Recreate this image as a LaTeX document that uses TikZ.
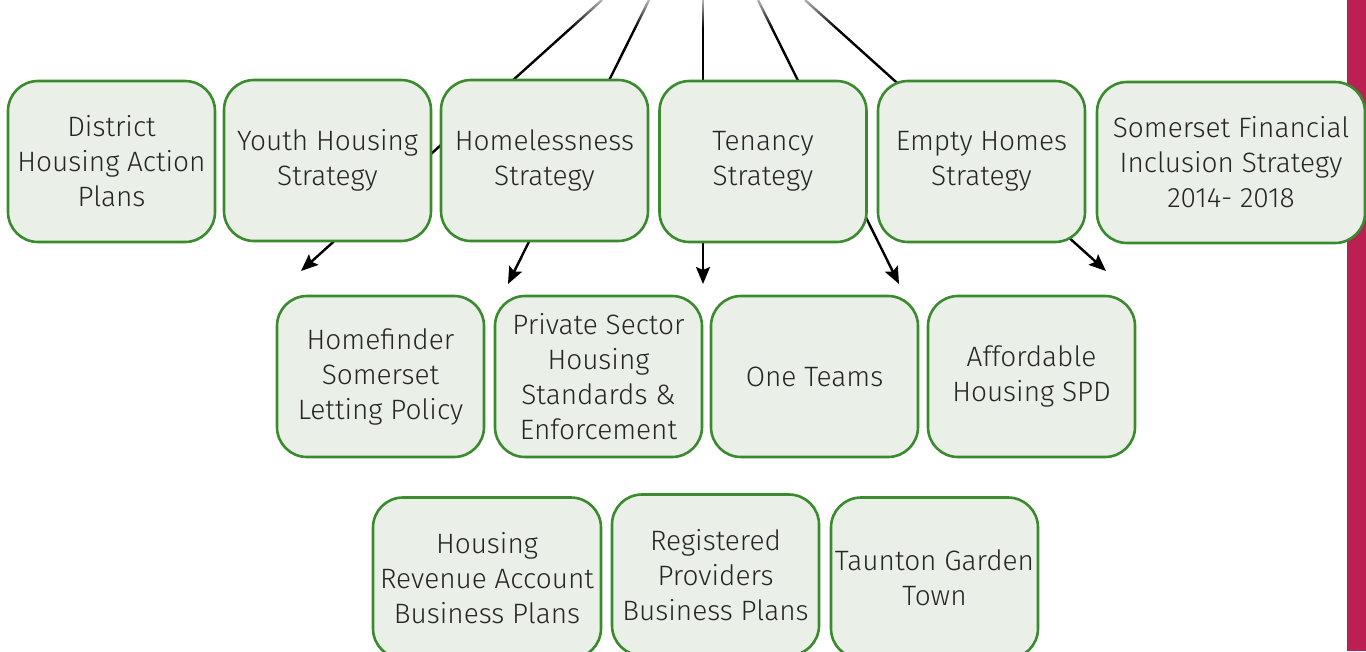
\documentclass[tikz,border=0pt]{standalone}
\usepackage{fontspec}
\setmainfont{Fira Sans Light}
\usetikzlibrary{arrows.meta,fadings}
\definecolor{boxfill}{HTML}{EAEFE7}
\definecolor{boxline}{HTML}{3A8A2E}
\definecolor{barcol}{HTML}{BC1F52}
\tikzfading[name=topfade, top color=transparent!30, bottom color=transparent!100]
\tikzset{
  box/.style={draw=boxline, fill=boxfill, line width=2.6pt, rounded corners=30pt,
    minimum width=207pt, minimum height=161pt, inner sep=0pt, outer sep=0pt,
    align=center, font=\fontsize{28}{35}\selectfont, text=black!85},
  conn/.style={line width=2.4pt, black, -{Stealth[length=17pt,width=14pt,inset=3pt]}},
}
\begin{document}
\begin{tikzpicture}[x=1pt,y=-1pt]
\useasboundingbox (0,0) rectangle (1366,651);
\fill[barcol] (1347,0) rectangle (1366,651);
% connector end points
\coordinate (s1) at (602,0);
\coordinate (s2) at (649,0);
\coordinate (s3) at (703,0);
\coordinate (s4) at (758,0);
\coordinate (s5) at (805,0);
\coordinate (t1) at (301,271);
\coordinate (t2) at (508,284);
\coordinate (t3) at (703,284);
\coordinate (t4) at (899,284);
\coordinate (t5) at (1106,271);
\draw[conn] (s1) -- (t1);
\draw[conn] (s2) -- (t2);
\draw[conn] (s3) -- (t3);
\draw[conn] (s4) -- (t4);
\draw[conn] (s5) -- (t5);
\fill[white, path fading=topfade] (400,0) rectangle (900,28);
% row 1
\node[box] (dist) at (111.5,161.5) {District\\Housing Action\\Plans};
\node[box, minimum height=161pt] (youth) at (327.5,160.5) {Youth Housing\\Strategy};
\node[box] (homeless) at (544.5,160.5) {Homelessness\\Strategy};
\node[box] (tenancy) at (763,161.5) {Tenancy\\Strategy};
\node[box] (empty) at (981.5,161.5) {Empty Homes\\Strategy};
\node[box, minimum width=268pt] (somfin) at (1231,162.5) {Somerset Financial\\Inclusion Strategy\\2014- 2018};
% row 2
\node[box] (homefinder) at (380.5,376.5) {Homefinder\\Somerset\\Letting Policy};
\node[box] (private) at (598.5,376.5) {Private Sector\\Housing\\Standards \&\\Enforcement};
\node[box] (oneteams) at (814.5,376.5) {One Teams};
\node[box] (afford) at (1031.5,376.5) {Affordable\\Housing SPD};
% row 3
\node[box, minimum width=228pt] (hra) at (487,578) {Housing\\Revenue Account\\Business Plans};
\node[box] (reg) at (715.5,575) {Registered\\Providers\\Business Plans};
\node[box] (taunton) at (934.5,578) {Taunton Garden\\Town};
\end{tikzpicture}
\end{document}
